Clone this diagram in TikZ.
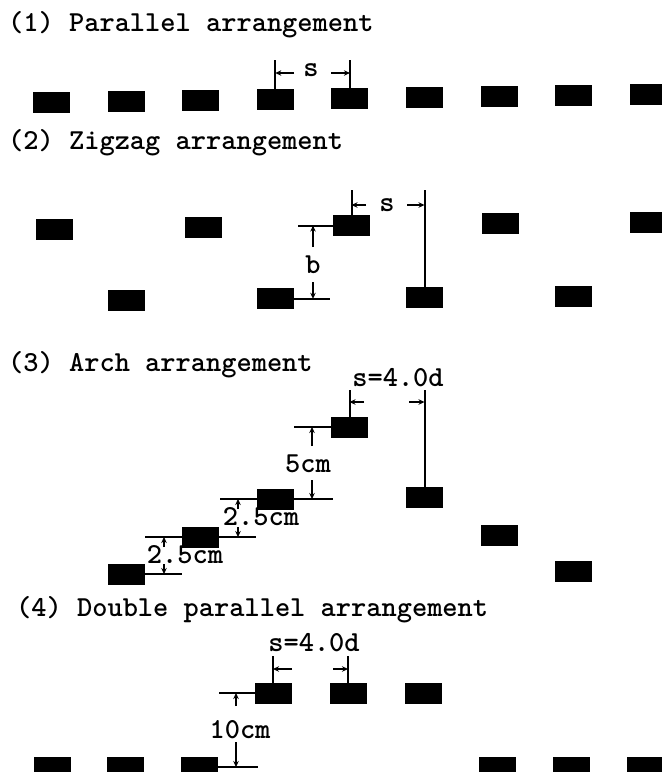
\documentclass[tikz,border=0pt]{standalone}
\usetikzlibrary{arrows.meta}

\tikzset{
  block/.style={fill=black, minimum width=37pt, minimum height=21pt, inner sep=0pt, outer sep=0pt},
  dimline/.style={line width=2pt},
  dimarrow/.style={line width=1.6pt, -{Stealth[length=6pt,width=5.5pt]}},
  lbl/.style={font=\fontsize{29}{31}\selectfont\ttfamily\bfseries, inner sep=0pt, anchor=base},
  heading/.style={lbl, anchor=base west}
}

\begin{document}
\begin{tikzpicture}[x=1pt, y=-1pt]

    \useasboundingbox (0,0) rectangle (662,772);
    \fill[white] (0,0) rectangle (662,772);

    % --- (1) Parallel arrangement ---
    \node[heading] (t1) at (8,31) {(1) Parallel arrangement};
    \foreach \i in {0,...,8}
        \node[block] (r1b\i) at ({51.5+74.6*\i},{102-\i}) {};
    % spacing s
    \draw[dimline] (r1b3.north) -- (r1b3.north |- 0,60);
    \draw[dimline] (r1b4.north) -- (r1b4.north |- 0,60);
    \draw[dimarrow] (294,73) -- (r1b3.north |- 0,73);
    \draw[dimarrow] (331,73) -- (r1b4.north |- 0,73);
    \node[lbl] (r1s) at (311,76) {s};

    % --- (2) Zigzag arrangement ---
    \node[heading] (t2) at (8,149) {(2) Zigzag arrangement};
    \foreach \i in {0,...,4}
        \node[block] (r2t\i) at ({54.5+148.5*\i},{229-1.7*\i}) {};
    \foreach \i in {0,...,3}
        \node[block] (r2u\i) at ({126.5+149*\i},{300-1.2*\i}) {};
    % spacing s
    \draw[dimline] (r2t2.north) -- (r2t2.north |- 0,190);
    \draw[dimline] (r2u2.north) -- (r2u2.north |- 0,190);
    \draw[dimarrow] (366,205) -- (r2t2.north |- 0,205);
    \draw[dimarrow] (407,205) -- (r2u2.north |- 0,205);
    \node[lbl] (r2s) at (387,211) {s};
    % row distance b
    \draw[dimline] (r2t2.west) -- ++(-35,0);
    \draw[dimline] (r2u1.east) -- ++(36,0);
    \draw[dimarrow] (313,247) -- (313,0 |- r2t2.west);
    \draw[dimarrow] (313,282) -- (313,0 |- r2u1.east);
    \node[lbl] (r2b) at (313,273) {b};

    % --- (3) Arch arrangement ---
    \node[heading] (t3) at (8,371) {(3) Arch arrangement};
    \foreach \x/\y [count=\i] in {126.5/574, 200.5/537, 275.5/499, 349.5/427, 424.5/497, 499.5/535, 573.5/571}
        \node[block] (r3a\i) at (\x,\y) {};
    % spacing s=4.0d
    \draw[dimline] (r3a4.north) -- (r3a4.north |- 0,390);
    \draw[dimline] (r3a5.north) -- (r3a5.north |- 0,390);
    \draw[dimarrow] (364,402) -- (r3a4.north |- 0,402);
    \draw[dimarrow] (409,402) -- (r3a5.north |- 0,402);
    \node[lbl] (r3s) at (398,386) {s=4.0d};
    % 5cm step
    \draw[dimline] (r3a4.west) -- ++(-37,0);
    \draw[dimline] (r3a3.east) -- ++(39,0);
    \draw[dimarrow] (312,446) -- (312,0 |- r3a4.west);
    \draw[dimarrow] (312,480) -- (312,0 |- r3a3.east);
    \node[lbl] (r3h5) at (308,472) {5cm};
    % 2.5cm steps
    \draw[dimline] (r3a3.west) -- ++(-37,0);
    \draw[dimline] (r3a2.east) -- ++(37,0);
    \draw[dimarrow] (238,509) -- (238,0 |- r3a3.west);
    \draw[dimarrow] (238,527) -- (238,0 |- r3a2.east);
    \node[lbl] (r3h2b) at (261,525) {2.5cm};
    \draw[dimline] (r3a2.west) -- ++(-37,0);
    \draw[dimline] (r3a1.east) -- ++(37,0);
    \draw[dimarrow] (164,547) -- (164,0 |- r3a2.west);
    \draw[dimarrow] (164,564) -- (164,0 |- r3a1.east);
    \node[lbl] (r3h2a) at (185,563) {2.5cm};

    % --- (4) Double parallel arrangement ---
    \node[heading] (t4) at (16,616) {(4) Double parallel arrangement};
    \foreach \i in {0,1,2}
        \node[block] (r4t\i) at ({273+75*\i},693) {};
    \foreach \x [count=\i] in {52,125,199,497,571,645}
        \node[block] (r4b\i) at (\x,767) {};
    % spacing s=4.0d
    \draw[dimline] (r4t0.north) -- (r4t0.north |- 0,656);
    \draw[dimline] (r4t1.north) -- (r4t1.north |- 0,656);
    \draw[dimarrow] (292,669) -- (r4t0.north |- 0,669);
    \draw[dimarrow] (333,669) -- (r4t1.north |- 0,669);
    \node[lbl] (r4s) at (314,651) {s=4.0d};
    % 10cm between rows
    \draw[dimline] (r4t0.west) -- ++(-36,0);
    \draw[dimline] (r4b3.east) -- ++(40,0);
    \draw[dimarrow] (236,706) -- (236,0 |- r4t0.west);
    \draw[dimarrow] (236,742) -- (236,0 |- r4b3.east);
    \node[lbl] (r4h) at (240,738) {10cm};

\end{tikzpicture}
\end{document}
